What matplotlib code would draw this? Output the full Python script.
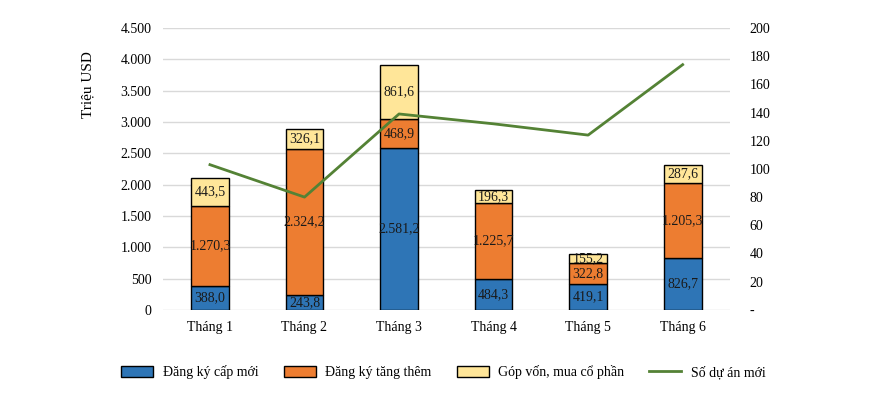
import numpy as np
import matplotlib.pyplot as plt
from matplotlib.ticker import FuncFormatter

plt.rcParams['font.family'] = ['Liberation Serif', 'DejaVu Serif']

months = ['Tháng 1', 'Tháng 2', 'Tháng 3', 'Tháng 4', 'Tháng 5', 'Tháng 6']
cap_moi = [388.0, 243.8, 2581.2, 484.3, 419.1, 826.7]
tang_them = [1270.3, 2324.2, 468.9, 1225.7, 322.8, 1205.3]
gop_von = [443.5, 326.1, 861.6, 196.3, 155.2, 287.6]
so_du_an = [103, 80, 139, 132, 124, 174]


def vn_num(v, dec=1):
    s = f'{v:,.{dec}f}'
    return s.replace(',', 'X').replace('.', ',').replace('X', '.')


fig = plt.figure(figsize=(8.7, 4.12), dpi=100)
ax = fig.add_axes([0.187, 0.248, 0.652, 0.684])
x = np.arange(len(months))
w = 0.4

series = [(cap_moi, '#2E75B6', 'Đăng ký cấp mới'),
          (tang_them, '#ED7D31', 'Đăng ký tăng thêm'),
          (gop_von, '#FFE699', 'Góp vốn, mua cổ phần')]
bottom = np.zeros(len(months))
handles = []
for vals, col, lab in series:
    vals = np.array(vals)
    b = ax.bar(x, vals, w, bottom=bottom, color=col, edgecolor='black',
               linewidth=1, label=lab, zorder=3)
    handles.append(b)
    for xi, v, bt in zip(x, vals, bottom):
        ax.text(xi, bt + v / 2, vn_num(v), ha='center', va='center',
                fontsize=10, color='#1a1a1a', zorder=5)
    bottom += vals

ax.set_xlim(-0.5, 5.5)
ax.set_ylim(0, 4500)
ax.set_yticks(np.arange(0, 4501, 500))
ax.yaxis.set_major_formatter(FuncFormatter(lambda v, p: vn_num(v, 0)))
ax.set_xticks(x)
ax.set_xticklabels(months)
ax.grid(axis='y', color='#d9d9d9', linewidth=1, zorder=0)
ax.set_axisbelow(True)
for s in ax.spines.values():
    s.set_visible(False)
ax.tick_params(length=0, labelsize=10, pad=8)
ax.set_ylabel('Triệu USD', fontsize=11)
ax.yaxis.set_label_coords(-0.12, 0.8)

ax2 = ax.twinx()
line, = ax2.plot(x, so_du_an, color='#548235', linewidth=2, zorder=6,
                 label='Số dự án mới')
ax2.set_ylim(0, 200)
ax2.set_yticks(np.arange(0, 201, 20))
ax2.yaxis.set_major_formatter(FuncFormatter(lambda v, p: '-' if v == 0 else f'{int(v)}'))
for s in ax2.spines.values():
    s.set_visible(False)
ax2.tick_params(length=0, labelsize=10, pad=14)

fig.legend(handles + [line], [h.get_label() for h in handles] + ['Số dự án mới'],
           loc='center', bbox_to_anchor=(0.51, 0.097), ncol=4, frameon=False,
           fontsize=10, handlelength=2.3, handleheight=0.8, handletextpad=0.7,
           columnspacing=1.8)

fig.savefig('out.png', dpi=100)
